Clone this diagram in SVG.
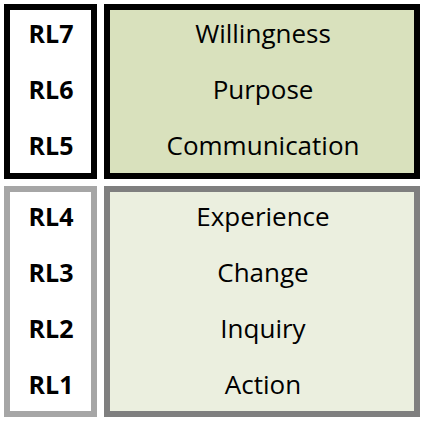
<svg xmlns="http://www.w3.org/2000/svg" width="423" height="422" viewBox="0 0 423 422">
<style>
.lbl{font-family:"Open Sans","Liberation Sans",sans-serif;font-size:25px;font-weight:bold;fill:#000;text-anchor:middle}
.txt{font-family:"Open Sans","Liberation Sans",sans-serif;font-size:26px;fill:#000;text-anchor:middle}
.box{stroke-width:6}
</style>
<rect width="423" height="422" fill="#fff"/>
<g id="upper-levels">
<rect class="box" x="7" y="7" width="87" height="169" fill="#fff" stroke="#000"/>
<text class="lbl" x="51" y="43">RL7</text>
<text class="lbl" x="51" y="99">RL6</text>
<text class="lbl" x="51" y="155">RL5</text>
</g>
<g id="upper-names">
<rect class="box" x="107" y="7" width="310" height="169" fill="#d9e1bd" stroke="#000"/>
<text class="txt" x="263" y="43">Willingness</text>
<text class="txt" x="263" y="99">Purpose</text>
<text class="txt" x="263" y="155">Communication</text>
</g>
<g id="lower-levels">
<rect class="box" x="7" y="189" width="87" height="225" fill="#fff" stroke="#a6a6a6"/>
<text class="lbl" x="51" y="226">RL4</text>
<text class="lbl" x="51" y="282">RL3</text>
<text class="lbl" x="51" y="338">RL2</text>
<text class="lbl" x="51" y="394">RL1</text>
</g>
<g id="lower-names">
<rect class="box" x="107" y="189" width="310" height="225" fill="#ebefdf" stroke="#7f7f7f"/>
<text class="txt" x="263" y="226">Experience</text>
<text class="txt" x="263" y="282">Change</text>
<text class="txt" x="263" y="338">Inquiry</text>
<text class="txt" x="263" y="394">Action</text>
</g>
<g id="connectors"/>
</svg>
